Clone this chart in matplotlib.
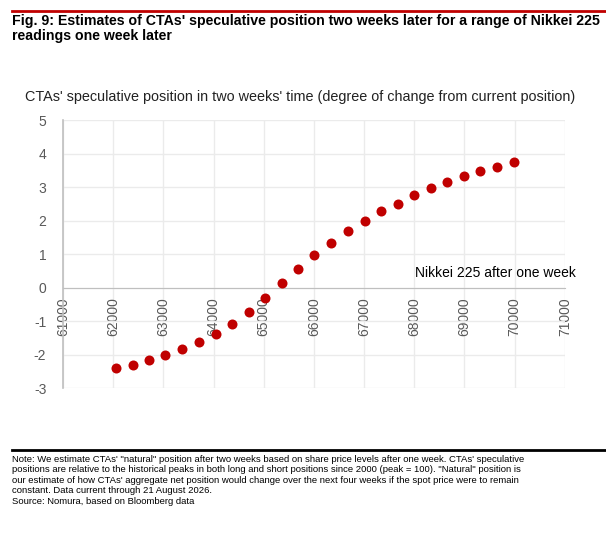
import matplotlib.pyplot as plt
from matplotlib.lines import Line2D

plt.rcParams['font.family'] = ['Liberation Sans', 'DejaVu Sans']
plt.rcParams['axes.unicode_minus'] = False

# Nikkei 225 level after one week vs estimated change in CTA position
nikkei = [62060, 62390, 62720, 63040, 63370, 63710, 64040, 64360, 64700,
          65030, 65360, 65690, 66010, 66350, 66680, 67010, 67340, 67670,
          68000, 68330, 68660, 68990, 69310, 69650, 69980]
position = [-2.40, -2.30, -2.16, -2.02, -1.84, -1.63, -1.38, -1.08, -0.73,
            -0.31, 0.15, 0.56, 0.98, 1.33, 1.68, 1.98, 2.28, 2.51,
            2.76, 2.97, 3.16, 3.33, 3.48, 3.61, 3.74]
xticks = [61000, 62000, 63000, 64000, 65000, 66000, 67000, 68000, 69000, 70000, 71000]
yticks = [-3, -2, -1, 0, 1, 2, 3, 4, 5]

fig = plt.figure(figsize=(6.06, 5.39), dpi=100)
ax = fig.add_axes([0.104, 0.280, 0.828, 0.497])

ax.scatter(nikkei, position, s=52, color='#C00000', zorder=3, linewidths=0)

ax.set_xlim(61000, 71000)
ax.set_ylim(-3, 5)
ax.set_xticks(xticks)
ax.set_yticks(yticks)
ax.grid(True, color='#EBEBEB', linewidth=1)
ax.set_axisbelow(True)
ax.tick_params(length=0, labelsize=10, labelcolor='#595959')
ax.tick_params(axis='x', pad=7, labelrotation=90)
ax.tick_params(axis='y', pad=12)

ax.spines['bottom'].set_position(('data', 0))
ax.spines['bottom'].set_color('#BFBFBF')
ax.spines['left'].set_color('#BFBFBF')
ax.spines['left'].set_linewidth(1.2)
ax.spines['top'].set_visible(False)
ax.spines['right'].set_visible(False)

ax.text(68020, 0.44, 'Nikkei 225 after one week', fontsize=10, color='black',
        ha='left', va='center')

# header and footer
fig.add_artist(Line2D([12 / 606, 1], [1 - 10.5 / 539] * 2, color='#C00000', linewidth=2))
fig.text(12 / 606, 1 - 14 / 539,
         "Fig. 9: Estimates of CTAs' speculative position two weeks later for a range of Nikkei 225\nreadings one week later",
         fontsize=10.2, fontweight='bold', ha='left', va='top', linespacing=1.05)
fig.text(25 / 606, 1 - 97 / 539,
         "CTAs' speculative position in two weeks' time (degree of change from current position)",
         fontsize=10.4, color='#222222', ha='left', va='center')

fig.add_artist(Line2D([12 / 606, 1], [1 - 449.5 / 539] * 2, color='black', linewidth=2))
note = ("Note: We estimate CTAs' \"natural\" position after two weeks based on share price levels after one week. CTAs' speculative\n"
        "positions are relative to the historical peaks in both long and short positions since 2000 (peak = 100). \"Natural\" position is\n"
        "our estimate of how CTAs' aggregate net position would change over the next four weeks if the spot price were to remain\n"
        "constant. Data current through 21 August 2026.")
fig.text(12 / 606, 1 - 455 / 539, note, fontsize=6.8,
         ha='left', va='top', linespacing=1.18)
fig.text(12 / 606, 1 - 497 / 539, 'Source: Nomura, based on Bloomberg data',
         fontsize=6.8, ha='left', va='top')

fig.savefig('out.png', dpi=100)
